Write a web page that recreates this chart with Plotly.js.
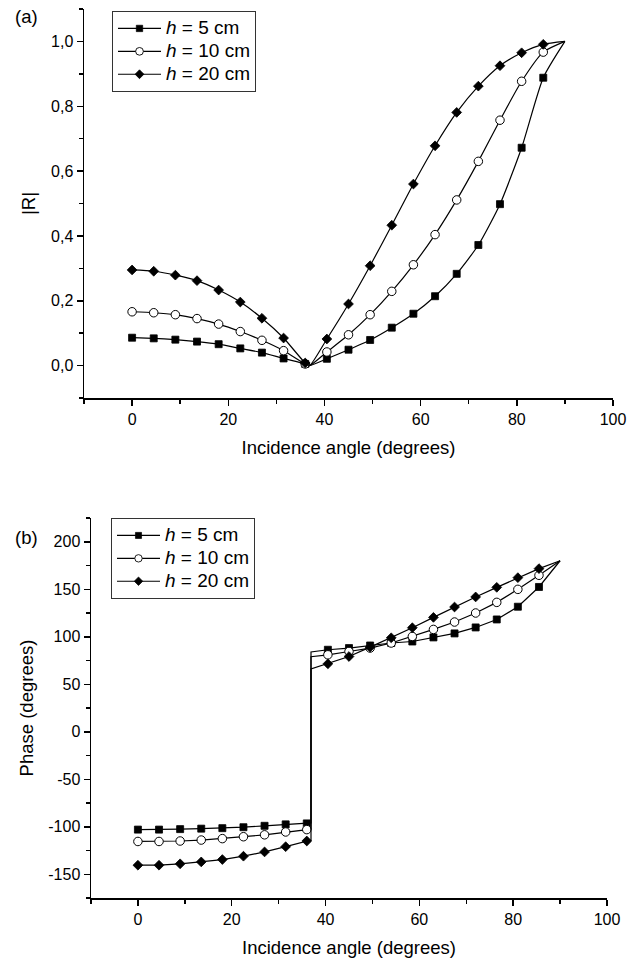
<!DOCTYPE html>
<html>
<head>
<meta charset="utf-8">
<script src="https://cdn.plot.ly/plotly-3.0.1.min.js"></script>
<style>html,body{margin:0;padding:0;background:#fff;}#chart{width:638px;height:958px;}</style>
</head>
<body>
<div id="chart"></div>
<script>
// Incidence angles with markers (degrees)
const angles = [0, 4.5, 9, 13.5, 18, 22.5, 27, 31.5, 36, 40.5, 45, 49.5, 54, 58.5, 63, 67.5, 72, 76.5, 81, 85.5];
const seriesNames = ['<i>h</i> = 5 cm', '<i>h</i> = 10 cm', '<i>h</i> = 20 cm'];

// |R| values
const r5  = [0.086, 0.084, 0.080, 0.074, 0.066, 0.053, 0.040, 0.022, 0.005, 0.021, 0.049, 0.079, 0.117, 0.160, 0.214, 0.283, 0.372, 0.498, 0.672, 0.888];
const r10 = [0.166, 0.163, 0.157, 0.145, 0.128, 0.105, 0.078, 0.046, 0.005, 0.042, 0.095, 0.157, 0.229, 0.311, 0.404, 0.511, 0.630, 0.757, 0.877, 0.967];
const r20 = [0.295, 0.291, 0.279, 0.262, 0.233, 0.196, 0.146, 0.085, 0.008, 0.082, 0.190, 0.308, 0.433, 0.560, 0.678, 0.781, 0.862, 0.925, 0.965, 0.991];

// Phase values (degrees)
const p5  = [-103, -103, -102.5, -102, -101.5, -100.5, -99, -97.5, -96.5, 86.3, 88.1, 90.8, 93.4, 95.0, 99.3, 103.5, 109.8, 118.2, 131.6, 152.4];
const p10 = [-115.5, -115.5, -115, -114, -112.5, -110.5, -108.5, -105.5, -103, 81.0, 84.5, 88.1, 93.4, 100.3, 107.7, 115.5, 125.0, 136.2, 149.9, 164.7];
const p20 = [-140.5, -140.5, -139, -137, -134.5, -131, -126.5, -121, -115, 71.5, 79.2, 89.1, 98.9, 109.5, 120.4, 131.3, 141.9, 152.0, 162.2, 171.7];

// Curve points without markers: Brewster angle and grazing incidence
const brewsterAngle = 36.9;
const grazingAngle = 90;
const rBrewster = [0, 0, 0];
const rGrazing = [1, 1, 1];
const pBeforeJump = [-96, -102.5, -114];
const pAfterJump = [84, 79, 66];
const pGrazing = [180, 180, 180];

// Tick values
const rTicks = [0, 0.2, 0.4, 0.6, 0.8, 1.0];
const phaseTicks = [-150, -100, -50, 0, 50, 100, 150, 200];
const angleTicks = [0, 20, 40, 60, 80, 100];

const FONT = 'Arial, "Liberation Sans", Helvetica, sans-serif';
const rData = [r5, r10, r20];
const pData = [p5, p10, p20];
const symbols = ['square', 'circle', 'diamond'];
const sizes = [7, 8.5, 7.5];
const fills = ['black', 'white', 'black'];
const mlw = [0.8, 1, 0.8];
const split = angles.findIndex(a => a > brewsterAngle);

function styleArrays(xs, i) {
  const isMark = xs.map(v => angles.includes(v));
  return {
    size: isMark.map(m => m ? sizes[i] : 0),
    lw: isMark.map(m => m ? mlw[i] : 0)
  };
}

function legendLabel(t) {
  return '<span style="font-size:19px">' + t + '</span>';
}

const traces = [];
for (let i = 0; i < 3; i++) {
  // top panel
  const xr = angles.slice(0, split).concat([brewsterAngle], angles.slice(split), [grazingAngle]);
  const yr = rData[i].slice(0, split).concat([rBrewster[i]], rData[i].slice(split), [rGrazing[i]]);
  const s1 = styleArrays(xr, i);
  traces.push({
    x: xr, y: yr, xaxis: 'x', yaxis: 'y', type: 'scatter', mode: 'lines+markers',
    name: legendLabel(seriesNames[i]), legend: 'legend',
    line: {color: 'black', width: 1.2, shape: 'spline', smoothing: 0.6},
    marker: {symbol: symbols[i], size: s1.size, color: fills[i], opacity: 1, line: {color: 'black', width: s1.lw}}
  });
  // bottom panel
  const xp = angles.slice(0, split).concat([brewsterAngle, brewsterAngle], angles.slice(split), [grazingAngle]);
  const yp = pData[i].slice(0, split).concat([pBeforeJump[i], pAfterJump[i]], pData[i].slice(split), [pGrazing[i]]);
  const s2 = styleArrays(xp, i);
  traces.push({
    x: xp, y: yp, xaxis: 'x2', yaxis: 'y2', type: 'scatter', mode: 'lines+markers',
    name: legendLabel(seriesNames[i]), legend: 'legend2',
    line: {color: 'black', width: 1.2},
    marker: {symbol: symbols[i], size: s2.size, color: fills[i], opacity: 1, line: {color: 'black', width: s2.lw}}
  });
}

const axisCommon = {
  showline: true, linecolor: 'black', linewidth: 1.5, mirror: false,
  zeroline: false, showgrid: false, ticks: 'outside', ticklen: 6, tickwidth: 1.5, tickcolor: 'black',
  tickfont: {family: FONT, size: 16, color: 'black'}
};
const titleFont = {family: FONT, size: 18.5, color: 'black'};
const legendCommon = {
  xanchor: 'left', yanchor: 'top', bgcolor: 'white', bordercolor: '#333', borderwidth: 1,
  font: {family: FONT, size: 15.3, color: 'black'}, tracegroupgap: 0, itemwidth: 43
};

const layout = {
  width: 638, height: 958, autosize: false,
  margin: {l: 0, r: 0, t: 0, b: 0},
  paper_bgcolor: 'white', plot_bgcolor: 'white',
  separators: ',.',
  font: {family: FONT, color: 'black'},
  xaxis: Object.assign({}, axisCommon, {
    domain: [84/638, 613/638], anchor: 'y', range: [-10, 100],
    tickvals: angleTicks, ticktext: angleTicks.map(String),
    minor: {dtick: 10, tick0: 0, ticklen: 4, tickwidth: 1.5, tickcolor: 'black', ticks: 'outside', showgrid: false},
    title: {text: 'Incidence angle (degrees)', font: titleFont, standoff: 14}
  }),
  yaxis: Object.assign({}, axisCommon, {
    domain: [1 - 398/958, 1 - 9/958], anchor: 'x', range: [-0.1, 1.1],
    tickvals: rTicks, tickformat: '.1f',
    minor: {dtick: 0.1, tick0: 0, ticklen: 4, tickwidth: 1.5, tickcolor: 'black', ticks: 'outside', showgrid: false},
    title: {text: '|R|', font: titleFont, standoff: 10}
  }),
  xaxis2: Object.assign({}, axisCommon, {
    domain: [91/638, 607/638], anchor: 'y2', range: [-10, 100],
    tickvals: angleTicks, ticktext: angleTicks.map(String),
    minor: {dtick: 10, tick0: 0, ticklen: 4, tickwidth: 1.5, tickcolor: 'black', ticks: 'outside', showgrid: false},
    title: {text: 'Incidence angle (degrees)', font: titleFont, standoff: 14}
  }),
  yaxis2: Object.assign({}, axisCommon, {
    domain: [1 - 898/958, 1 - 518/958], anchor: 'x2', range: [-175, 225],
    tickvals: phaseTicks, ticktext: phaseTicks.map(String),
    minor: {dtick: 25, tick0: 0, ticklen: 4, tickwidth: 1.5, tickcolor: 'black', ticks: 'outside', showgrid: false},
    title: {text: 'Phase (degrees)', font: titleFont, standoff: 10}
  }),
  showlegend: true,
  legend: Object.assign({}, legendCommon, {x: 112/638, y: 1 - 11/958}),
  legend2: Object.assign({}, legendCommon, {x: 111/638, y: 1 - 518/958}),
  annotations: [
    {text: '(a)', xref: 'paper', yref: 'paper', x: 13/638, y: 1 - 17/958, xanchor: 'left', yanchor: 'middle', showarrow: false, font: {family: FONT, size: 18.5, color: 'black'}},
    {text: '(b)', xref: 'paper', yref: 'paper', x: 13/638, y: 1 - 537/958, xanchor: 'left', yanchor: 'middle', showarrow: false, font: {family: FONT, size: 18.5, color: 'black'}}
  ]
};

Plotly.newPlot('chart', traces, layout, {staticPlot: true, displayModeBar: false});
</script>
</body>
</html>
